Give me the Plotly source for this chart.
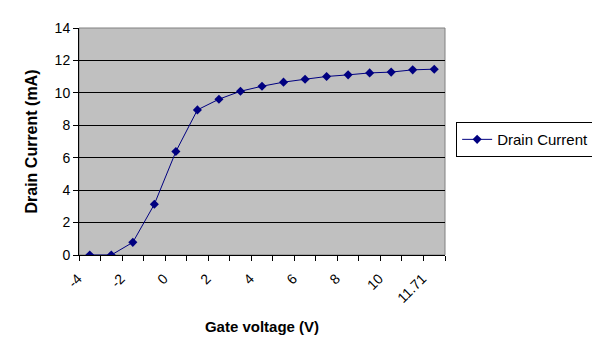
import plotly.graph_objects as go

# Data
gate_voltage = ["-4", "-3", "-2", "-1", "0", "1", "2", "3", "4", "5", "6", "7", "8", "9", "10", "11", "11.71"]
drain_current = [0.0, 0.0, 0.78, 3.13, 6.38, 8.95, 9.61, 10.1, 10.41, 10.66, 10.84, 11.01, 11.11, 11.23, 11.28, 11.42, 11.46]
tick_text = [lab if i % 2 == 0 else "" for i, lab in enumerate(gate_voltage)]
y_ticks = [0, 2, 4, 6, 8, 10, 12, 14]

FONT = "Liberation Sans, Arial, sans-serif"
n = len(gate_voltage)

fig = go.Figure()
fig.add_trace(go.Scatter(
    x=gate_voltage, y=drain_current, mode="lines+markers", name="Drain Current",
    line=dict(color="#000080", width=1),
    marker=dict(symbol="diamond", size=7, color="#000080"),
))

fig.update_layout(
    width=592, height=350,
    margin=dict(l=71, r=155, t=20, b=103, autoexpand=False),
    paper_bgcolor="white", plot_bgcolor="#C0C0C0",
    font=dict(family=FONT, size=14, color="black"),
    showlegend=True,
    legend=dict(xref="container", yref="container", x=0.757, y=0.674,
                xanchor="left", yanchor="top",
                bordercolor="black", borderwidth=1, bgcolor="white",
                font=dict(family=FONT, size=15, color="black")),
    xaxis=dict(type="category", categoryorder="array", categoryarray=gate_voltage,
               range=[-0.5, n - 0.5], tickmode="array", tickvals=gate_voltage,
               ticktext=tick_text, tickangle=-45, tickson="boundaries",
               ticks="outside", ticklen=5, tickwidth=1, tickcolor="black", showgrid=False,
               showline=True, linecolor="black", linewidth=1, zeroline=False,
               ticklabelstandoff=9, ticklabelshift=-12, automargin=False,
               title=dict(text="<b>Gate voltage (V)</b>", font=dict(size=15), standoff=16)),
    yaxis=dict(range=[0, 14], tickmode="array", tickvals=y_ticks, ticks="outside",
               ticklen=5, tickwidth=1, tickcolor="black", showgrid=True, gridcolor="black",
               gridwidth=1, showline=True, linecolor="black", linewidth=1, zeroline=False,
               automargin=False,
               title=dict(text="<b>Drain Current (mA)</b>", font=dict(size=16), standoff=13)),
)
fig.add_shape(type="rect", xref="paper", yref="paper", x0=0, y0=0, x1=1, y1=1,
              line=dict(color="#808080", width=1), layer="below")

fig.write_html("out.html")
